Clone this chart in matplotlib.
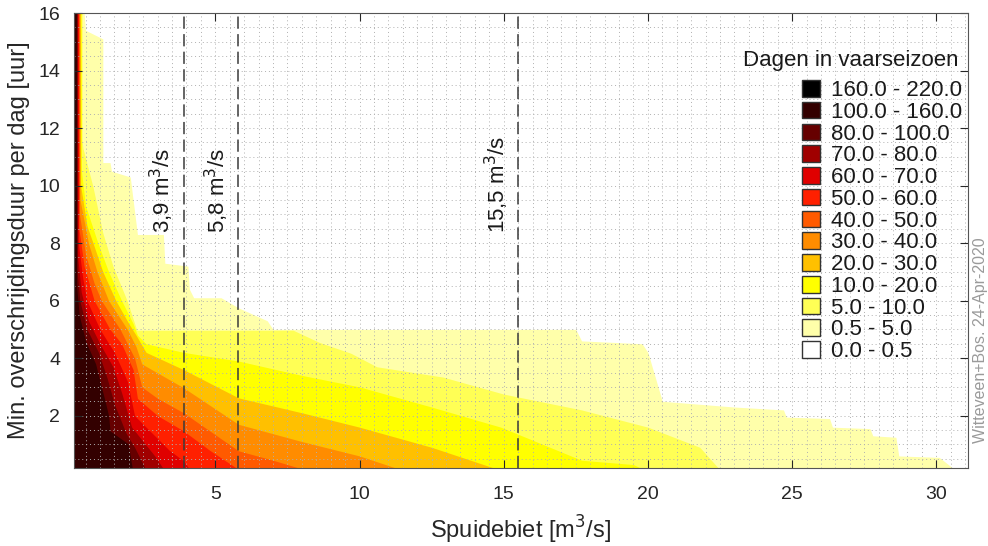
import numpy as np
import matplotlib.pyplot as plt
from matplotlib.patches import Patch
from matplotlib.ticker import MultipleLocator

plt.rcParams['font.family'] = ['Liberation Sans', 'DejaVu Sans']

# class edges (days in the shipping season) and their colours
levels = [0, 0.5, 5, 10, 20, 30, 40, 50, 60, 70, 80, 100, 160, 220]
colors = ['#ffffff', '#ffffaa', '#ffff55', '#ffff00', '#ffc000', '#ff8c00',
          '#ff5a00', '#ff2000', '#e00000', '#a00000', '#660000', '#330000', '#000000']

# contour lines: discharge x [m3/s] at duration y [h] where days drop below the level
x_05 = [0.45, 0.5, 1.1, 1.1, 1.35, 1.4, 2.05, 2.3, 3.2, 3.25, 4.05, 4.1, 4.25, 5.2, 5.8, 6.8, 7.0,
        17.5, 17.7, 19.8, 20.0, 20.5, 23.0, 24.7, 24.8, 26.3, 26.4, 27.7, 27.8, 28.6, 28.7, 30.1, 30.8]
y_05 = [16, 15.4, 15.1, 10.8, 10.8, 10.5, 10.3, 8.3, 8.3, 7.3, 7.2, 6.4, 6.1, 6.1, 5.75, 5.3, 5.0,
        5.0, 4.6, 4.5, 4.2, 2.5, 2.3, 2.2, 1.95, 1.9, 1.6, 1.55, 1.3, 1.25, 0.6, 0.55, 0.0]
x_5 = [0.38, 0.38, 0.41, 0.76, 1.1, 1.45, 1.94, 2.28, 7.7, 8.6, 9.7, 10.6, 12.9, 15.0, 17.7, 20.0, 21.8, 22.6]
y_5 = [16, 11.6, 11.3, 9.95, 8.35, 7.2, 6.0, 4.97, 4.97, 4.55, 4.17, 3.7, 3.34, 2.75, 2.2, 1.6, 0.9, 0.0]
x_10 = [0.35, 0.36, 0.5, 0.93, 1.3, 1.75, 2.15, 2.3, 2.6, 3.9, 5.8, 8.0, 10.0, 12.5, 14.9, 17.7, 19.5, 20.1]
y_10 = [16, 10.5, 9.3, 8.0, 7.0, 6.0, 5.2, 4.8, 4.5, 4.2, 3.9, 3.4, 3.0, 2.3, 1.6, 0.45, 0.3, 0.0]
x_20 = [0.32, 0.33, 0.55, 0.76, 1.1, 1.55, 2.0, 2.25, 2.6, 3.9, 5.8, 8.0, 10.0, 12.5, 15.2]
y_20 = [16, 10.0, 8.6, 8.0, 7.0, 6.0, 5.2, 4.8, 4.2, 3.6, 2.62, 2.1, 1.6, 0.9, 0.0]
x_30 = [0.3, 0.31, 0.6, 0.9, 1.3, 1.95, 2.25, 2.45, 3.9, 5.8, 8.0, 10.0, 11.8]
y_30 = [16, 9.5, 8.0, 7.0, 6.0, 5.0, 4.4, 3.8, 2.97, 1.7, 1.1, 0.6, 0.0]
x_40 = [0.28, 0.29, 0.5, 0.8, 1.05, 1.7, 2.2, 2.45, 3.0, 3.9, 5.8, 7.0, 8.5]
y_40 = [16, 9.0, 7.6, 6.6, 6.0, 5.0, 4.0, 3.0, 2.6, 2.1, 0.78, 0.45, 0.0]
x_50 = [0.26, 0.27, 0.45, 0.8, 1.35, 1.75, 2.15, 2.3, 3.0, 3.9, 4.8, 6.0]
y_50 = [16, 8.5, 7.2, 6.0, 5.0, 4.5, 3.6, 2.6, 2.0, 1.47, 0.8, 0.0]
x_60 = [0.24, 0.25, 0.4, 0.55, 1.0, 1.5, 1.95, 2.2, 2.8, 3.4, 3.9, 4.2]
y_60 = [16, 8.0, 6.8, 6.0, 5.0, 4.2, 3.2, 2.0, 1.4, 0.8, 0.43, 0.0]
x_70 = [0.22, 0.23, 0.35, 0.6, 1.0, 1.45, 1.75, 2.1, 2.5, 2.9, 3.3]
y_70 = [16, 7.5, 6.3, 5.3, 4.5, 3.7, 2.8, 1.6, 1.1, 0.6, 0.0]
x_80 = [0.2, 0.21, 0.3, 0.55, 0.95, 1.25, 1.5, 1.9, 2.2, 2.65]
y_80 = [16, 7.0, 6.0, 5.0, 4.2, 3.3, 2.4, 1.4, 0.9, 0.0]
x_100 = [0.18, 0.19, 0.28, 0.5, 0.85, 1.0, 1.18, 1.3, 1.35, 1.98, 2.15]
y_100 = [16, 6.5, 5.5, 4.6, 3.8, 3.2, 2.5, 2.0, 1.47, 1.02, 0.0]
x_160 = [0.14, 0.14]
y_160 = [16, 0.0]

# reference discharges
ref_q = [3.9, 5.8, 15.5]
ref_labels = ['3,9 m$^3$/s', '5,8 m$^3$/s', '15,5 m$^3$/s']

contours = [(x_05, y_05), (x_5, y_5), (x_10, y_10), (x_20, y_20), (x_30, y_30), (x_40, y_40),
            (x_50, y_50), (x_60, y_60), (x_70, y_70), (x_80, y_80), (x_100, y_100), (x_160, y_160)]

fig = plt.figure(figsize=(9.88, 5.46), dpi=100)
ax = fig.add_axes([74/988, 1 - 468/546, 894/988, 455/546])

# fill each class from the left, higher classes painted on top
for i, (cx, cy) in enumerate(contours):
    ax.fill_betweenx(cy, 0, cx, color=colors[i + 1], lw=0, zorder=1)

for q, lab in zip(ref_q, ref_labels):
    ax.axvline(q, color='#3a3a3a', ls=(0, (8, 3.5)), lw=1.1, zorder=3)
    ax.text(q - 0.25, 8.35, lab, rotation=90, ha='right', va='bottom', fontsize=16, color='#1a1a1a')

ax.set_xlim(0.1, 31.1)
ax.set_ylim(0.18, 16)
ax.set_xticks([5, 10, 15, 20, 25, 30])
ax.set_yticks([2, 4, 6, 8, 10, 12, 14, 16])
ax.xaxis.set_minor_locator(MultipleLocator(0.5))
ax.yaxis.set_minor_locator(MultipleLocator(0.5))
ax.grid(which='both', color='#b0b0b0', ls=(0, (1, 3)), lw=0.7, zorder=2)
ax.set_axisbelow(False)
ax.tick_params(which='major', direction='in', length=6, top=True, right=True,
               labelsize=14, color='#262626', labelcolor='#262626')
ax.tick_params(axis='x', which='major', pad=13)
ax.tick_params(axis='y', which='major', pad=10)
ax.tick_params(which='minor', length=0, top=True, right=True)
for s in ax.spines.values():
    s.set_color('#555555')
    s.set_zorder(4)

ax.set_xlabel('Spuidebiet [m$^3$/s]', fontsize=17, color='#262626', labelpad=8)
ax.set_ylabel('Min. overschrijdingsduur per dag [uur]', fontsize=17, color='#262626', labelpad=6)

handles = []
labels = []
for i in range(len(levels) - 2, -1, -1):
    handles.append(Patch(facecolor=colors[i], edgecolor='#333333', lw=1))
    labels.append(f'{levels[i]:.1f} - {levels[i + 1]:.1f}')
leg = ax.legend(handles, labels, loc='upper right',
                bbox_to_anchor=(962/988, 1 - 80/546), bbox_transform=fig.transFigure,
                frameon=False, fontsize=16, alignment='right',
                handlelength=0.78, handleheight=0.78, handletextpad=0.5,
                labelspacing=0.03, borderpad=0, borderaxespad=0)
for t in leg.get_texts():
    t.set_color('#1a1a1a')
fig.text(958/988, 1 - 60/546, 'Dagen in vaarseizoen', ha='right', va='center',
         fontsize=16, color='#1a1a1a')

fig.text(980/988, 1 - 443/546, 'Witteveen+Bos. 24-Apr-2020', rotation=90, ha='center',
         va='bottom', fontsize=11.5, color='#9a9a9a')

fig.savefig('out.png', dpi=100)
